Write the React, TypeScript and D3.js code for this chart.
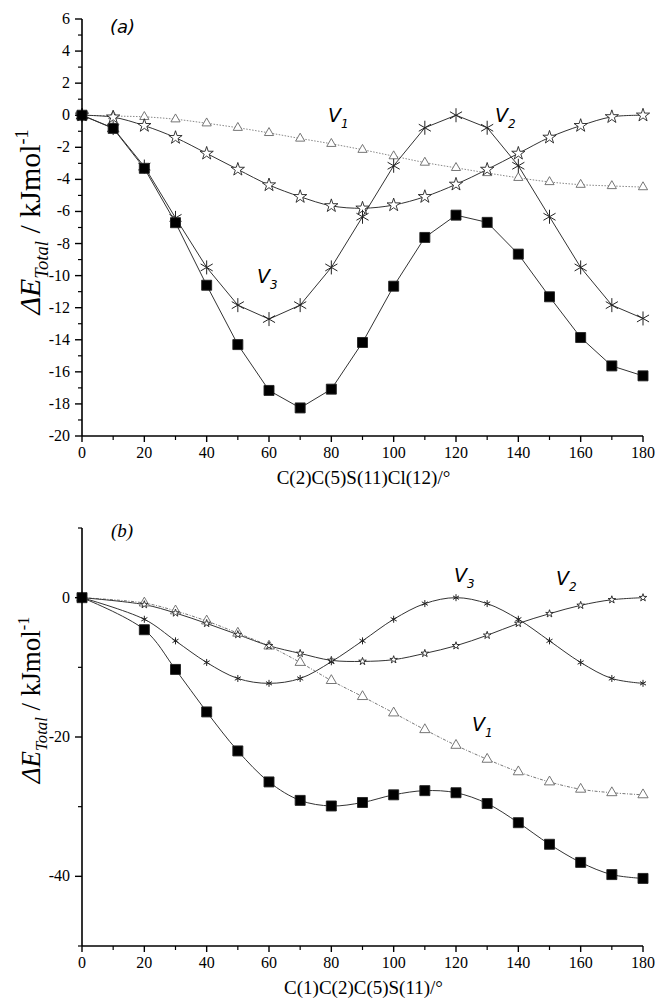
import React from 'react';
import * as d3 from 'd3';

// (a) torsion C(2)C(5)S(11)Cl(12)
const anglesA = [0, 10, 20, 30, 40, 50, 60, 70, 80, 90, 100, 110, 120, 130, 140, 150, 160, 170, 180];
const totalA = [0, -0.82, -3.31, -6.7, -10.6, -14.3, -17.16, -18.25, -17.08, -14.17, -10.66, -7.62, -6.23, -6.68, -8.66, -11.32, -13.86, -15.63, -16.25];
const v1A = [0, -0.05, -0.1, -0.25, -0.5, -0.78, -1.1, -1.45, -1.78, -2.15, -2.55, -2.95, -3.28, -3.6, -3.9, -4.16, -4.33, -4.41, -4.48];
const v2A = [0, -0.12, -0.65, -1.4, -2.38, -3.38, -4.35, -5.08, -5.65, -5.8, -5.6, -5.08, -4.31, -3.38, -2.38, -1.38, -0.65, -0.1, 0];
const v3A = [0, -0.8, -3.2, -6.4, -9.49, -11.84, -12.71, -11.84, -9.49, -6.33, -3.15, -0.78, 0, -0.78, -3.15, -6.33, -9.49, -11.84, -12.67];
const yTicksA = [6, 4, 2, 0, -2, -4, -6, -8, -10, -12, -14, -16, -18, -20];

// (b) torsion C(1)C(2)C(5)S(11)
const anglesB = [0, 20, 30, 40, 50, 60, 70, 80, 90, 100, 110, 120, 130, 140, 150, 160, 170, 180];
const totalB = [0, -4.6, -10.3, -16.4, -22.0, -26.45, -29.1, -29.9, -29.4, -28.3, -27.7, -28.0, -29.55, -32.3, -35.4, -38.0, -39.75, -40.3];
const v1B = [0, -0.77, -1.9, -3.35, -5.1, -6.95, -9.3, -11.9, -14.2, -16.55, -18.95, -21.2, -23.2, -25.0, -26.45, -27.5, -28.0, -28.3];
const v2B = [0, -1.0, -2.2, -3.7, -5.3, -6.9, -8.0, -9.0, -9.15, -8.9, -8.0, -6.9, -5.4, -3.7, -2.3, -1.1, -0.3, 0];
const v3B = [0, -3.1, -6.2, -9.3, -11.6, -12.3, -11.6, -9.2, -6.2, -3.1, -0.85, 0, -0.85, -3.1, -6.2, -9.3, -11.6, -12.3];
const yTicksB = [0, -20, -40];

const xTicks = [0, 20, 40, 60, 80, 100, 120, 140, 160, 180];

const serif = '"Liberation Serif", "Times New Roman", serif';
const sans = '"DejaVu Sans", Verdana, sans-serif';

type Marker = 'square' | 'asterisk' | 'star' | 'triangle';

type Series = {
  values: number[];
  marker: Marker;
  size: number;
  curve: d3.CurveFactory;
  color: string;
  dash?: string;
};

function markerPath(m: Marker, size: number): string {
  if (m === 'asterisk') {
    const r = size / 2;
    const c = r * Math.cos(Math.PI / 6);
    const s = r * Math.sin(Math.PI / 6);
    return `M0,${-r}L0,${r}M${-c},${-s}L${c},${s}M${-c},${s}L${c},${-s}`;
  }
  if (m === 'square') return d3.symbol(d3.symbolSquare, size * size)() as string;
  if (m === 'star') return d3.symbol(d3.symbolStar, (size * size) / 3.6)() as string;
  return d3.symbol(d3.symbolTriangle, size * size * 0.45)() as string;
}

type PanelProps = {
  xs: number[];
  series: Series[];
  yDomain: [number, number];
  top: number;
  bottom: number;
  yTicks: number[];
  yMinor: number[];
  title: string;
  label: React.ReactNode;
  yTitleCenter: number;
  yTitleSize: number;
  vLabels: { text: string; sub: string; x: number; y: number }[];
};

const left = 82;
const right = 643;

function Panel(p: PanelProps) {
  const x = d3.scaleLinear().domain([0, 180]).range([left, right]);
  const y = d3.scaleLinear().domain(p.yDomain).range([p.bottom, p.top]);
  const xMinor = d3.range(10, 180, 20);

  return (
    <g>
      {p.series.map((s, i) => {
        const line = d3
          .line<number>()
          .x((_, j) => x(p.xs[j]))
          .y((d) => y(d))
          .curve(s.curve);
        return (
          <path key={'l' + i} d={line(s.values) || ''} fill="none" stroke={s.color}
            strokeWidth={1} strokeDasharray={s.dash} />
        );
      })}
      {p.series.map((s, i) =>
        s.values.map((v, j) => (
          <path key={'m' + i + '-' + j}
            transform={`translate(${x(p.xs[j])},${y(v)})`}
            d={markerPath(s.marker, s.size)}
            fill={s.marker === 'square' ? '#000' : s.marker === 'asterisk' ? 'none' : '#fff'}
            stroke={s.marker === 'triangle' ? '#666' : '#222'}
            strokeWidth={s.marker === 'asterisk' ? 1 : 0.9} />
        ))
      )}

      {/* left axis */}
      <line x1={left} x2={left} y1={p.top} y2={p.bottom} stroke="#000" strokeWidth={1.6} />
      {p.yTicks.map((t) => (
        <g key={'yt' + t}>
          <line x1={left - 7} x2={left} y1={y(t)} y2={y(t)} stroke="#000" strokeWidth={1.4} />
          <text x={70} y={y(t) + 5} textAnchor="end" fontFamily={serif} fontSize={16}>{t}</text>
        </g>
      ))}
      {p.yMinor.map((t) => (
        <line key={'ym' + t} x1={left - 4} x2={left} y1={y(t)} y2={y(t)} stroke="#000" strokeWidth={1.2} />
      ))}

      {/* bottom axis */}
      <line x1={left} x2={right} y1={p.bottom} y2={p.bottom} stroke="#000" strokeWidth={1.6} />
      {xTicks.map((t) => (
        <g key={'xt' + t}>
          <line x1={x(t)} x2={x(t)} y1={p.bottom} y2={p.bottom + 6} stroke="#000" strokeWidth={1.4} />
          <text x={x(t)} y={p.bottom + 22} textAnchor="middle" fontFamily={serif} fontSize={16}>{t}</text>
        </g>
      ))}
      {xMinor.map((t) => (
        <line key={'xm' + t} x1={x(t)} x2={x(t)} y1={p.bottom} y2={p.bottom + 4} stroke="#000" strokeWidth={1.2} />
      ))}
      <text x={(left + right) / 2 + 1} y={p.bottom + 48} textAnchor="middle" fontFamily={serif} fontSize={19}>
        {p.title}
      </text>

      {/* y title */}
      <text transform={`translate(40,${p.yTitleCenter}) rotate(-90)`} textAnchor="middle"
        fontFamily={serif} fontSize={p.yTitleSize}>
        <tspan fontStyle="italic">ΔE</tspan>
        <tspan fontStyle="italic" fontSize={p.yTitleSize * 0.62} dy={p.yTitleSize * 0.25}>Total</tspan>
        <tspan dy={-p.yTitleSize * 0.25}> / kJmol</tspan>
        <tspan fontSize={p.yTitleSize * 0.6} dy={-p.yTitleSize * 0.4}>-1</tspan>
      </text>

      {p.label}

      {p.vLabels.map((l) => (
        <text key={l.text + l.sub} x={l.x} y={l.y} fontFamily={sans} fontStyle="italic" fontSize={19}>
          {l.text}
          <tspan fontSize={12} dy={6}>{l.sub}</tspan>
        </text>
      ))}
    </g>
  );
}

export default function App() {
  const lineCol = '#333';
  const seriesA: Series[] = [
    { values: v1A, marker: 'triangle', size: 9, curve: d3.curveCatmullRom, color: '#888', dash: '1.5 1.5' },
    { values: v2A, marker: 'star', size: 14, curve: d3.curveCatmullRom, color: lineCol },
    { values: v3A, marker: 'asterisk', size: 14, curve: d3.curveLinear, color: lineCol },
    { values: totalA, marker: 'square', size: 10, curve: d3.curveLinear, color: lineCol },
  ];
  const seriesB: Series[] = [
    { values: v1B, marker: 'triangle', size: 10, curve: d3.curveCatmullRom, color: '#777', dash: '3 1.5 1 1.5' },
    { values: v2B, marker: 'star', size: 8, curve: d3.curveCatmullRom, color: lineCol },
    { values: v3B, marker: 'asterisk', size: 7, curve: d3.curveCatmullRom, color: lineCol },
    { values: totalB, marker: 'square', size: 10, curve: d3.curveCatmullRom, color: lineCol },
  ];

  return (
    <svg width={656} height={998} style={{ position: 'absolute', left: 0, top: 0, background: '#fff' }}>
      <Panel
        xs={anglesA}
        series={seriesA}
        yDomain={[-20, 6]}
        top={19}
        bottom={436}
        yTicks={yTicksA}
        yMinor={d3.range(-19, 6, 2)}
        title="C(2)C(5)S(11)Cl(12)/°"
        yTitleCenter={222}
        yTitleSize={30}
        label={<text x={110} y={33} fontFamily={sans} fontStyle="italic" fontSize={18}>(a)</text>}
        vLabels={[
          { text: 'V', sub: '1', x: 328, y: 122 },
          { text: 'V', sub: '2', x: 495, y: 122 },
          { text: 'V', sub: '3', x: 257, y: 283 },
        ]}
      />
      <Panel
        xs={anglesB}
        series={seriesB}
        yDomain={[-50, 10]}
        top={528}
        bottom={946}
        yTicks={yTicksB}
        yMinor={[10, -10, -30, -50]}
        title="C(1)C(2)C(5)S(11)/°"
        yTitleCenter={700}
        yTitleSize={27}
        label={<text x={111} y={537} fontFamily={serif} fontStyle="italic" fontSize={19}>(b)</text>}
        vLabels={[
          { text: 'V', sub: '3', x: 454, y: 582 },
          { text: 'V', sub: '2', x: 556, y: 585 },
          { text: 'V', sub: '1', x: 472, y: 731 },
        ]}
      />
    </svg>
  );
}
